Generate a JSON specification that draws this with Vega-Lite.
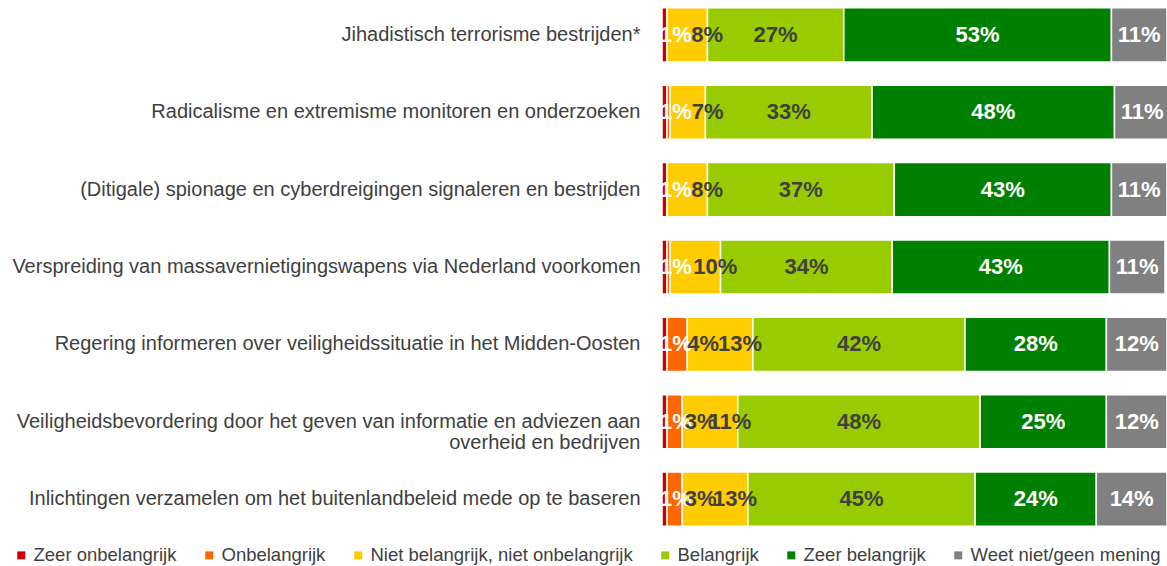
{
  "$schema": "https://vega.github.io/schema/vega-lite/v6.json",
  "width": 505,
  "height": 534,
  "autosize": {"type": "none"},
  "padding": {"left": 662, "top": 0, "right": 0, "bottom": 32},
  "background": "white",
  "config": {"view": {"stroke": null}, "font": "Liberation Sans"},
  "data": {
    "values": [
      {"item": "Jihadistisch terrorisme bestrijden*", "cat": "Zeer onbelangrijk", "o": 1, "value": 1},
      {"item": "Jihadistisch terrorisme bestrijden*", "cat": "Onbelangrijk", "o": 2, "value": 0},
      {"item": "Jihadistisch terrorisme bestrijden*", "cat": "Niet belangrijk, niet onbelangrijk", "o": 3, "value": 8},
      {"item": "Jihadistisch terrorisme bestrijden*", "cat": "Belangrijk", "o": 4, "value": 27},
      {"item": "Jihadistisch terrorisme bestrijden*", "cat": "Zeer belangrijk", "o": 5, "value": 53},
      {"item": "Jihadistisch terrorisme bestrijden*", "cat": "Weet niet/geen mening", "o": 6, "value": 11},

      {"item": "Radicalisme en extremisme monitoren en onderzoeken", "cat": "Zeer onbelangrijk", "o": 1, "value": 1},
      {"item": "Radicalisme en extremisme monitoren en onderzoeken", "cat": "Onbelangrijk", "o": 2, "value": 0.6},
      {"item": "Radicalisme en extremisme monitoren en onderzoeken", "cat": "Niet belangrijk, niet onbelangrijk", "o": 3, "value": 7},
      {"item": "Radicalisme en extremisme monitoren en onderzoeken", "cat": "Belangrijk", "o": 4, "value": 33},
      {"item": "Radicalisme en extremisme monitoren en onderzoeken", "cat": "Zeer belangrijk", "o": 5, "value": 48},
      {"item": "Radicalisme en extremisme monitoren en onderzoeken", "cat": "Weet niet/geen mening", "o": 6, "value": 11},

      {"item": "(Ditigale) spionage en cyberdreigingen signaleren en bestrijden", "cat": "Zeer onbelangrijk", "o": 1, "value": 1},
      {"item": "(Ditigale) spionage en cyberdreigingen signaleren en bestrijden", "cat": "Onbelangrijk", "o": 2, "value": 0},
      {"item": "(Ditigale) spionage en cyberdreigingen signaleren en bestrijden", "cat": "Niet belangrijk, niet onbelangrijk", "o": 3, "value": 8},
      {"item": "(Ditigale) spionage en cyberdreigingen signaleren en bestrijden", "cat": "Belangrijk", "o": 4, "value": 37},
      {"item": "(Ditigale) spionage en cyberdreigingen signaleren en bestrijden", "cat": "Zeer belangrijk", "o": 5, "value": 43},
      {"item": "(Ditigale) spionage en cyberdreigingen signaleren en bestrijden", "cat": "Weet niet/geen mening", "o": 6, "value": 11},

      {"item": "Verspreiding van massavernietigingswapens via Nederland voorkomen", "cat": "Zeer onbelangrijk", "o": 1, "value": 1},
      {"item": "Verspreiding van massavernietigingswapens via Nederland voorkomen", "cat": "Onbelangrijk", "o": 2, "value": 0.6},
      {"item": "Verspreiding van massavernietigingswapens via Nederland voorkomen", "cat": "Niet belangrijk, niet onbelangrijk", "o": 3, "value": 10},
      {"item": "Verspreiding van massavernietigingswapens via Nederland voorkomen", "cat": "Belangrijk", "o": 4, "value": 34},
      {"item": "Verspreiding van massavernietigingswapens via Nederland voorkomen", "cat": "Zeer belangrijk", "o": 5, "value": 43},
      {"item": "Verspreiding van massavernietigingswapens via Nederland voorkomen", "cat": "Weet niet/geen mening", "o": 6, "value": 11},

      {"item": "Regering informeren over veiligheidssituatie in het Midden-Oosten", "cat": "Zeer onbelangrijk", "o": 1, "value": 1},
      {"item": "Regering informeren over veiligheidssituatie in het Midden-Oosten", "cat": "Onbelangrijk", "o": 2, "value": 4},
      {"item": "Regering informeren over veiligheidssituatie in het Midden-Oosten", "cat": "Niet belangrijk, niet onbelangrijk", "o": 3, "value": 13},
      {"item": "Regering informeren over veiligheidssituatie in het Midden-Oosten", "cat": "Belangrijk", "o": 4, "value": 42},
      {"item": "Regering informeren over veiligheidssituatie in het Midden-Oosten", "cat": "Zeer belangrijk", "o": 5, "value": 28},
      {"item": "Regering informeren over veiligheidssituatie in het Midden-Oosten", "cat": "Weet niet/geen mening", "o": 6, "value": 12},

      {"item": "Veiligheidsbevordering door het geven van informatie en adviezen aan|overheid en bedrijven", "cat": "Zeer onbelangrijk", "o": 1, "value": 1},
      {"item": "Veiligheidsbevordering door het geven van informatie en adviezen aan|overheid en bedrijven", "cat": "Onbelangrijk", "o": 2, "value": 3},
      {"item": "Veiligheidsbevordering door het geven van informatie en adviezen aan|overheid en bedrijven", "cat": "Niet belangrijk, niet onbelangrijk", "o": 3, "value": 11},
      {"item": "Veiligheidsbevordering door het geven van informatie en adviezen aan|overheid en bedrijven", "cat": "Belangrijk", "o": 4, "value": 48},
      {"item": "Veiligheidsbevordering door het geven van informatie en adviezen aan|overheid en bedrijven", "cat": "Zeer belangrijk", "o": 5, "value": 25},
      {"item": "Veiligheidsbevordering door het geven van informatie en adviezen aan|overheid en bedrijven", "cat": "Weet niet/geen mening", "o": 6, "value": 12},

      {"item": "Inlichtingen verzamelen om het buitenlandbeleid mede op te baseren", "cat": "Zeer onbelangrijk", "o": 1, "value": 1},
      {"item": "Inlichtingen verzamelen om het buitenlandbeleid mede op te baseren", "cat": "Onbelangrijk", "o": 2, "value": 3},
      {"item": "Inlichtingen verzamelen om het buitenlandbeleid mede op te baseren", "cat": "Niet belangrijk, niet onbelangrijk", "o": 3, "value": 13},
      {"item": "Inlichtingen verzamelen om het buitenlandbeleid mede op te baseren", "cat": "Belangrijk", "o": 4, "value": 45},
      {"item": "Inlichtingen verzamelen om het buitenlandbeleid mede op te baseren", "cat": "Zeer belangrijk", "o": 5, "value": 24},
      {"item": "Inlichtingen verzamelen om het buitenlandbeleid mede op te baseren", "cat": "Weet niet/geen mening", "o": 6, "value": 14}
    ]
  },
  "transform": [
    {"stack": "value", "groupby": ["item"], "sort": [{"field": "o", "order": "ascending"}], "as": ["x0", "x1"]},
    {"calculate": "(datum.x0 + datum.x1) / 2", "as": "mid"},
    {"calculate": "format(datum.value, '.0f') + '%'", "as": "lbl"}
  ],
  "encoding": {
    "y": {
      "field": "item",
      "type": "nominal",
      "sort": null,
      "scale": {"paddingInner": 0.3, "paddingOuter": 0.1},
      "axis": {
        "title": null,
        "ticks": false,
        "domain": false,
        "labelFontSize": 20,
        "labelColor": "#404040",
        "labelPadding": 22,
        "labelLimit": 700,
        "labelLineHeight": 21,
        "labelExpr": "split(datum.label, '|')"
      }
    }
  },
  "layer": [
    {
      "mark": {"type": "bar", "stroke": "white", "strokeWidth": 1.5},
      "encoding": {
        "x": {"field": "x0", "type": "quantitative", "scale": {"domain": [0, 100], "nice": false}, "axis": null},
        "x2": {"field": "x1"},
        "color": {
          "field": "cat",
          "type": "nominal",
          "sort": ["Zeer onbelangrijk", "Onbelangrijk", "Niet belangrijk, niet onbelangrijk", "Belangrijk", "Zeer belangrijk", "Weet niet/geen mening"],
          "scale": {
            "domain": ["Zeer onbelangrijk", "Onbelangrijk", "Niet belangrijk, niet onbelangrijk", "Belangrijk", "Zeer belangrijk", "Weet niet/geen mening"],
            "range": ["#CC0000", "#FF6600", "#FFCC00", "#99CC00", "#008000", "#808080"]
          },
          "legend": {
            "title": null,
            "orient": "none",
            "direction": "horizontal",
            "legendX": -650,
            "legendY": 546,
            "symbolType": "square",
            "symbolSize": 64,
            "symbolStrokeWidth": 0,
            "labelFontSize": 18.5,
            "labelColor": "#404040",
            "labelOffset": 3,
            "columnPadding": 23,
            "labelLimit": 400
          }
        }
      }
    },
    {
      "transform": [{"filter": "datum.o == 4 || datum.o == 5 || datum.o == 6"}],
      "mark": {"type": "text", "fontWeight": "bold", "fontSize": 22, "align": "center", "baseline": "middle"},
      "encoding": {
        "x": {"field": "mid", "type": "quantitative"},
        "text": {"field": "lbl"},
        "color": {
          "condition": {"test": "datum.o == 4", "value": "#404040"},
          "value": "white"
        }
      }
    },
    {
      "transform": [{"filter": "datum.o == 1"}],
      "mark": {"type": "text", "fontWeight": "bold", "fontSize": 22, "align": "left", "baseline": "middle", "dx": -2, "color": "white"},
      "encoding": {
        "x": {"field": "x0", "type": "quantitative"},
        "text": {"field": "lbl"}
      }
    },
    {
      "transform": [{"filter": "datum.o == 3"}],
      "mark": {"type": "text", "fontWeight": "bold", "fontSize": 22, "align": "center", "baseline": "middle", "dx": 20, "color": "#404040"},
      "encoding": {
        "x": {"field": "mid", "type": "quantitative"},
        "text": {"field": "lbl"}
      }
    },
    {
      "transform": [{"filter": "datum.o == 2 && datum.value >= 1"}],
      "mark": {"type": "text", "fontWeight": "bold", "fontSize": 22, "align": "center", "baseline": "middle", "dx": 26, "color": "#404040"},
      "encoding": {
        "x": {"field": "mid", "type": "quantitative"},
        "text": {"field": "lbl"}
      }
    }
  ]
}
